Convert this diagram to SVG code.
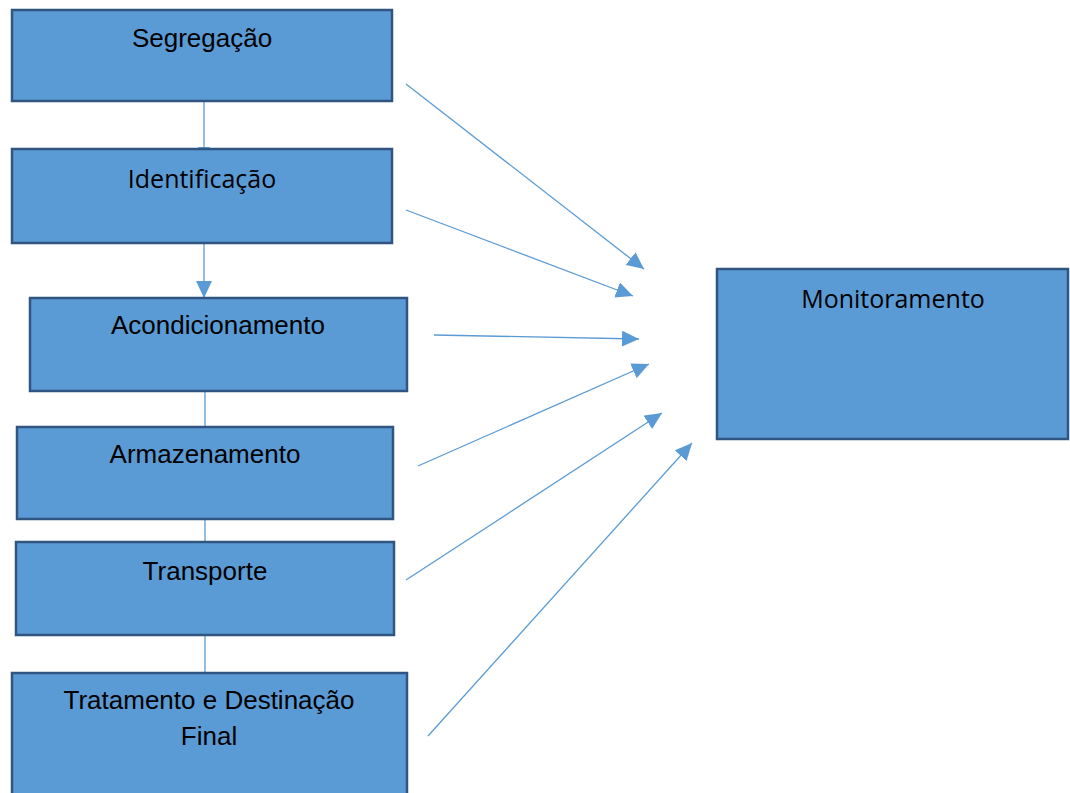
<svg xmlns="http://www.w3.org/2000/svg" width="1070" height="793" viewBox="0 0 1070 793">
<style>
.box{fill:#5B9BD5;stroke:#2F5580;stroke-width:2.5}
.a{font-family:"Liberation Sans",Arial,sans-serif;font-size:26px;fill:#000;text-anchor:middle}
.c{font-family:"Open Sans","Liberation Sans",sans-serif;font-size:25px;fill:#000;text-anchor:middle}
.ln{stroke:#5B9BD5;stroke-width:1.3;fill:none}
</style>
<defs>
<marker id="ah" markerUnits="userSpaceOnUse" markerWidth="18" markerHeight="16" refX="17" refY="8" orient="auto">
<path d="M0,0 L17,8 L0,16 Z" fill="#5B9BD5"/>
</marker>
</defs>
<g id="connectors">
<line class="ln" x1="204" y1="101" x2="204" y2="149"/>
<path d="M197,147 L211,147 L204,150 Z" fill="#5B9BD5"/>
<line class="ln" x1="204" y1="243" x2="204" y2="298" marker-end="url(#ah)"/>
<line class="ln" x1="205" y1="391" x2="205" y2="427"/>
<line class="ln" x1="205" y1="519" x2="205" y2="542"/>
<line class="ln" x1="205" y1="635" x2="205" y2="673"/>
<line class="ln" x1="406" y1="84" x2="644" y2="269" marker-end="url(#ah)"/>
<line class="ln" x1="406" y1="210" x2="633" y2="296" marker-end="url(#ah)"/>
<line class="ln" x1="434" y1="335" x2="639" y2="339" marker-end="url(#ah)"/>
<line class="ln" x1="418" y1="466" x2="649" y2="364" marker-end="url(#ah)"/>
<line class="ln" x1="406" y1="580" x2="662" y2="413" marker-end="url(#ah)"/>
<line class="ln" x1="428" y1="736" x2="692" y2="443" marker-end="url(#ah)"/>
</g>
<g id="segregacao">
<rect class="box" x="12" y="10" width="380" height="91"/>
<text class="a" x="202" y="47">Segregação</text>
</g>
<g id="identificacao">
<rect class="box" x="12" y="149" width="380" height="94"/>
<text class="c" x="202" y="188">Identificação</text>
</g>
<g id="acondicionamento">
<rect class="box" x="30" y="298" width="377" height="93"/>
<text class="a" x="218" y="334">Acondicionamento</text>
</g>
<g id="armazenamento">
<rect class="box" x="17" y="427" width="376" height="92"/>
<text class="a" x="205" y="463">Armazenamento</text>
</g>
<g id="transporte">
<rect class="box" x="16" y="542" width="378" height="93"/>
<text class="a" x="205" y="580">Transporte</text>
</g>
<g id="tratamento">
<rect class="box" x="12" y="673" width="395" height="130"/>
<text class="a" x="209" y="709">Tratamento e Destinação</text>
<text class="a" x="209" y="745">Final</text>
</g>
<g id="monitoramento">
<rect class="box" x="717" y="269" width="351" height="170"/>
<text class="c" x="893" y="308">Monitoramento</text>
</g>
</svg>
